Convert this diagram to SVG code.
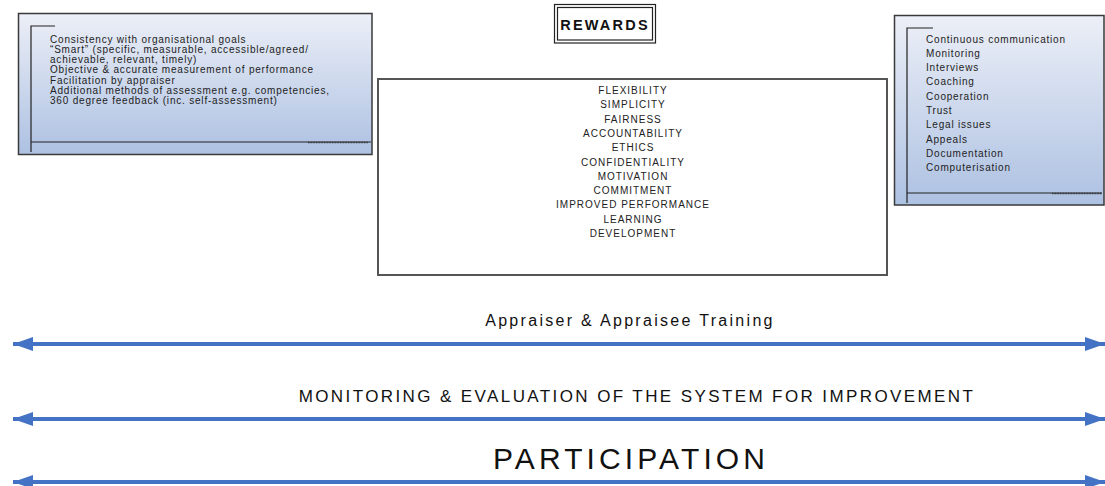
<svg xmlns="http://www.w3.org/2000/svg" width="1105" height="486" viewBox="0 0 1105 486">
<defs>
<linearGradient id="bluegrad" x1="0" y1="0" x2="0" y2="1">
<stop offset="0" stop-color="#eceff7"/>
<stop offset="1" stop-color="#adc1e2"/>
</linearGradient>
<marker id="ah" viewBox="0 0 20 14" refX="20" refY="7" markerWidth="20" markerHeight="14" markerUnits="userSpaceOnUse" orient="auto-start-reverse">
<path d="M0,0 L20,7 L0,14 Z" fill="#4472c4"/>
</marker>
<style>
.panel{fill:url(#bluegrad);stroke:#3a3a3a;stroke-width:1.5}
.br{fill:none;stroke:#222;stroke-width:1.2}
.dot{fill:none;stroke:#333;stroke-width:1.6;stroke-dasharray:1 0.6}
.small{font-family:"Liberation Sans",Arial,sans-serif;font-size:10px;letter-spacing:0.8px;fill:#222}
.mid{font-family:"Liberation Sans",Arial,sans-serif;font-size:10px;letter-spacing:1px;fill:#222;text-anchor:middle}
.band{font-family:"Liberation Sans",Arial,sans-serif;fill:#111;text-anchor:middle}
.conn{stroke:#4472c4;stroke-width:4;fill:none}
</style>
</defs>

<g id="goals">
<rect class="panel" x="18.5" y="13.5" width="353.5" height="141"/>
<path class="br" d="M55,26 H31 V152 M31,142 H371"/>
<path class="dot" d="M308,142.5 H368"/>
<text class="small" x="50" y="42.7">Consistency with organisational goals</text>
<text class="small" x="50" y="52.9">“Smart” (specific, measurable, accessible/agreed/</text>
<text class="small" x="50" y="63.1">achievable, relevant, timely)</text>
<text class="small" x="50" y="73.3">Objective &amp; accurate measurement of performance</text>
<text class="small" x="50" y="83.5">Facilitation by appraiser</text>
<text class="small" x="50" y="93.7">Additional methods of assessment e.g. competencies,</text>
<text class="small" x="50" y="103.9">360 degree feedback (inc. self-assessment)</text>
</g>

<g id="rewards">
<rect x="554.5" y="4.5" width="101" height="38.5" fill="#fff" stroke="#222" stroke-width="1.2"/>
<rect x="557.5" y="7.5" width="95" height="32.5" fill="none" stroke="#222" stroke-width="1.2"/>
<text x="605" y="29.5" font-family="Liberation Sans, Arial, sans-serif" font-size="14.5" font-weight="bold" letter-spacing="2.2" text-anchor="middle" fill="#111">REWARDS</text>
</g>

<g id="principles">
<rect x="378" y="79" width="509" height="196" fill="#fff" stroke="#555" stroke-width="2"/>
<text class="mid" x="633" y="94">FLEXIBILITY</text>
<text class="mid" x="633" y="108.3">SIMPLICITY</text>
<text class="mid" x="633" y="122.6">FAIRNESS</text>
<text class="mid" x="633" y="136.9">ACCOUNTABILITY</text>
<text class="mid" x="633" y="151.2">ETHICS</text>
<text class="mid" x="633" y="165.5">CONFIDENTIALITY</text>
<text class="mid" x="633" y="179.8">MOTIVATION</text>
<text class="mid" x="633" y="194.1">COMMITMENT</text>
<text class="mid" x="633" y="208.4">IMPROVED PERFORMANCE</text>
<text class="mid" x="633" y="222.7">LEARNING</text>
<text class="mid" x="633" y="237">DEVELOPMENT</text>
</g>

<g id="process">
<rect class="panel" x="894.5" y="15.5" width="209.5" height="189.5"/>
<path class="br" d="M933,28 H907 V203 M907,193 H1102"/>
<path class="dot" d="M1052,193.5 H1102"/>
<text class="small" x="926" y="42.5">Continuous communication</text>
<text class="small" x="926" y="56.8">Monitoring</text>
<text class="small" x="926" y="71.1">Interviews</text>
<text class="small" x="926" y="85.4">Coaching</text>
<text class="small" x="926" y="99.7">Cooperation</text>
<text class="small" x="926" y="114">Trust</text>
<text class="small" x="926" y="128.3">Legal issues</text>
<text class="small" x="926" y="142.6">Appeals</text>
<text class="small" x="926" y="156.9">Documentation</text>
<text class="small" x="926" y="171.2">Computerisation</text>
</g>

<g id="training">
<text class="band" x="630" y="326" font-size="16" letter-spacing="2.3">Appraiser &amp; Appraisee Training</text>
</g>
<g id="monitoring">
<text class="band" x="637" y="402" font-size="17" letter-spacing="2.4">MONITORING &amp; EVALUATION OF THE SYSTEM FOR IMPROVEMENT</text>
</g>
<g id="participation">
<text class="band" x="631" y="469" font-size="30" letter-spacing="4.1">PARTICIPATION</text>
</g>

<g id="connectors">
<line class="conn" x1="13" y1="344" x2="1105" y2="344" marker-start="url(#ah)" marker-end="url(#ah)"/>
<line class="conn" x1="13" y1="419" x2="1105" y2="419" marker-start="url(#ah)" marker-end="url(#ah)"/>
<line class="conn" x1="13" y1="482" x2="1105" y2="482" marker-start="url(#ah)" marker-end="url(#ah)"/>
</g>
</svg>
